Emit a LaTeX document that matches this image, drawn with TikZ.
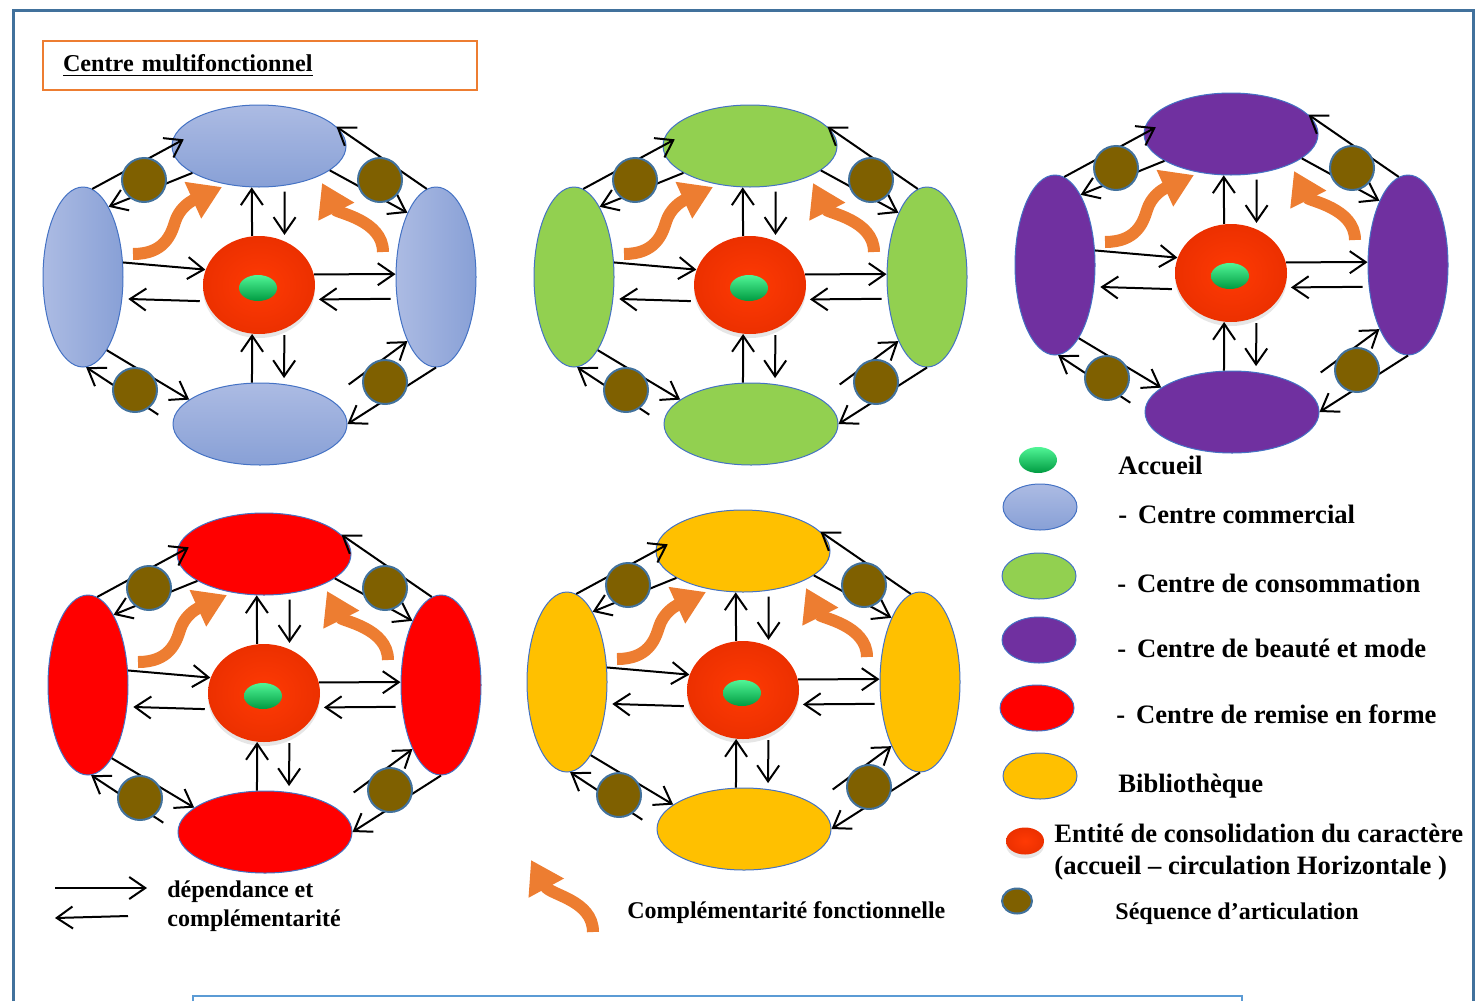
\documentclass[tikz,border=0pt]{standalone}
\usepackage{fontspec}
\setmainfont{Liberation Serif}
\usetikzlibrary{arrows.meta, calc, shapes.geometric, shadows}

\definecolor{blueL}{RGB}{172,187,227}
\definecolor{blueD}{RGB}{136,160,214}
\definecolor{greenZ}{RGB}{146,208,80}
\definecolor{purpleZ}{RGB}{112,48,160}
\definecolor{redZ}{RGB}{255,0,0}
\definecolor{yellowZ}{RGB}{255,192,0}
\definecolor{zoneEdge}{RGB}{68,114,196}
\definecolor{brownZ}{RGB}{127,96,0}
\definecolor{brownEdge}{RGB}{65,113,156}
\definecolor{orangeA}{RGB}{237,125,49}
\definecolor{frameBlue}{RGB}{65,113,156}
\definecolor{boxBlue}{RGB}{91,155,213}
\definecolor{ballIn}{RGB}{255,58,4}
\definecolor{ballOut}{RGB}{236,48,0}
\definecolor{pearlTop}{RGB}{80,245,150}
\definecolor{pearlBot}{RGB}{0,155,65}

\tikzset{
  zone/.style={ellipse, draw=zoneEdge, line width=0.5pt, inner sep=0pt},
  hzone/.style={zone, minimum width=87pt, minimum height=41pt},
  vzone/.style={zone, minimum width=40pt, minimum height=90pt},
  ball/.style={ellipse, inner sep=0pt, minimum width=56pt, minimum height=49pt, inner color=ballIn, outer color=ballOut, drop shadow={opacity=0.2, shadow xshift=0pt, shadow yshift=-2pt}},
  pearl/.style={ellipse, inner sep=0pt, minimum width=19pt, minimum height=13pt, top color=pearlTop, bottom color=pearlBot},
  joint/.style={circle, fill=brownZ, draw=brownEdge, line width=1pt, inner sep=0pt, minimum size=22pt},
  link/.style={line width=1pt, -{Straight Barb[length=8pt, width=11pt]}},
  gap/.style={shorten <=3pt, shorten >=3pt},
  bend arrow/.style={orangeA, line width=6pt, -{Triangle[length=16pt, width=19pt]}},
  legtext/.style={anchor=base west, inner sep=0pt, font=\fontsize{13.3}{16}\selectfont\bfseries},
  smalltext/.style={anchor=base west, inner sep=0pt, font=\fontsize{12}{14.5}\selectfont\bfseries},
}

\begin{document}
\begin{tikzpicture}[x=0.5pt, y=-0.5pt]
\useasboundingbox (0,0) rectangle (1475,1001);
\draw[frameBlue, line width=1.5pt] (13,1001) -- (13,10) -- (1473,10) -- (1473,1001);
\draw[boxBlue, line width=1pt] (193,1001) -- (193,996) -- (1242,996) -- (1242,1001);
\node[draw=orangeA, line width=1pt, anchor=west, text width=197pt, inner xsep=10pt, minimum height=24.5pt, align=left, font=\fontsize{12.1}{14}\selectfont\bfseries] (title) at (42,65.5) {\underline{Centre multifonctionnel}};

\foreach \cx/\cy/\ca/\cb/\zn in {259/285/blueL/blueD/a, 750/285/greenZ/greenZ/b, 1231/273/purpleZ/purpleZ/c, 264/693/redZ/redZ/d, 743/690/yellowZ/yellowZ/e}{
\begin{scope}[shift={(\cx,\cy)}]
\node[hzone, top color=\ca, bottom color=\cb] (\zn-T) at (0,-139) {};
\node[hzone, top color=\ca, bottom color=\cb] (\zn-B) at (1,139) {};
\node[vzone, left color=\ca, right color=\cb] (\zn-L) at (-176,-8) {};
\node[vzone, left color=\ca, right color=\cb] (\zn-R) at (177,-8) {};
\node[ball] (\zn-C) at (0,0) {};
\node[pearl] (\zn-G) at (-1,3) {};
\draw[link] (\zn-L.20) -- (\zn-C.164);
\draw[link, gap] (\zn-C.197) -- (\zn-L.-29);
\draw[link] (\zn-C.11) -- (\zn-R.176);
\draw[link, gap] (\zn-R.209) -- (\zn-C.-15);
\draw[link] (\zn-C.98) -- (\zn-T.260);
\draw[link, gap] (\zn-T.-57) -- (\zn-C.60);
\draw[link] (\zn-B.101) -- (\zn-C.262);
\draw[link, gap] (\zn-C.-60) -- (\zn-B.59);
\draw[link, shorten >=-7pt] (\zn-L.84) -- (\zn-T.180);
\draw[link] (\zn-T.202) -- (\zn-L.70);
\draw[link] (\zn-R.96) -- (\zn-T.14);
\draw[link] (\zn-T.-19) -- (\zn-R.114);
\draw[link] (\zn-L.-72) -- (\zn-B.161);
\draw[link, shorten <=8.5pt] (\zn-B.west) -- (\zn-L.-88);
\draw[link, shorten <=12pt] (\zn-B.20) -- (\zn-R.246);
\draw[link] (\zn-R.-90) -- (\zn-B.east);
\node[joint] (\zn-j1) at (-115,-105) {};
\node[joint] (\zn-j2) at (121,-105) {};
\node[joint] (\zn-j3) at (-124,105) {};
\node[joint] (\zn-j4) at (126,97) {};
\draw[bend arrow] (-126,-31) .. controls (-95,-31) and (-88,-50) .. (-84,-63) .. controls (-80,-76) and (-70,-83) .. (-37,-98);
\draw[bend arrow] (124,-33) .. controls (124,-65) and (78,-72) .. (63,-102);
\end{scope}
}

\node[pearl] (lg-acc) at (1038,460) {};
\node[legtext] (tx-acc) at (1118,474) {Accueil};
\node[zone, minimum width=37pt, minimum height=23pt, top color=blueL, bottom color=blueD] (lg-com) at (1040,507) {};
\node[legtext] (tx-com) at (1118,523) {-\hspace{0.41em}Centre commercial};
\node[zone, minimum width=37pt, minimum height=23pt, fill=greenZ] (lg-con) at (1039,576) {};
\node[legtext] (tx-con) at (1117,592) {-\hspace{0.41em}Centre de consommation};
\node[zone, minimum width=37pt, minimum height=23pt, fill=purpleZ] (lg-bea) at (1039,640) {};
\node[legtext] (tx-bea) at (1117,657) {-\hspace{0.41em}Centre de beauté et mode};
\node[zone, minimum width=37pt, minimum height=23pt, fill=redZ] (lg-rem) at (1037,708) {};
\node[legtext] (tx-rem) at (1116,723) {-\hspace{0.41em}Centre de remise en forme};
\node[zone, minimum width=37pt, minimum height=23pt, fill=yellowZ] (lg-bib) at (1040,776) {};
\node[legtext] (tx-bib) at (1118,792) {Bibliothèque};
\node[ball, minimum width=19pt, minimum height=13.5pt] (lg-ent) at (1025,841) {};
\node[legtext] (tx-ent1) at (1054,842) {Entité de consolidation du caractère};
\node[legtext] (tx-ent2) at (1054,874) {(accueil – circulation Horizontale )};
\node[joint, ellipse, minimum width=15pt, minimum height=12.5pt] (lg-seq) at (1017,901) {};
\node[smalltext] (tx-seq) at (1115,919) {Séquence d’articulation};

\coordinate (dep-a) at (55,888);
\coordinate (dep-b) at (147,888);
\coordinate (dep-c) at (128,916);
\coordinate (dep-d) at (55,918);
\draw[link] (dep-a) -- (dep-b);
\draw[link] (dep-c) -- (dep-d);
\node[smalltext] (tx-dep1) at (167,897) {dépendance et};
\node[smalltext] (tx-dep2) at (167,926) {complémentarité};
\draw[bend arrow] (593,932) .. controls (593,900) and (550,895) .. (531,860);
\node[smalltext] (tx-cf) at (627,918) {Complémentarité fonctionnelle};
\end{tikzpicture}
\end{document}
